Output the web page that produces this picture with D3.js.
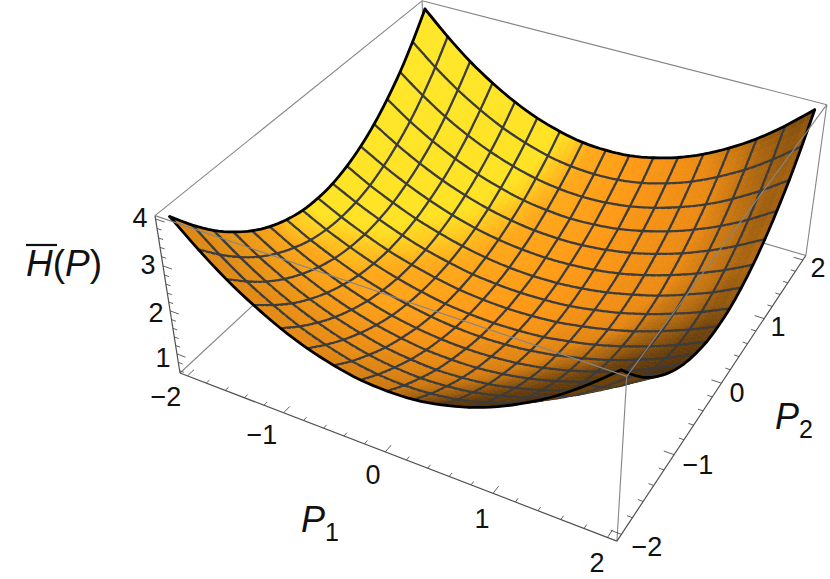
<!DOCTYPE html>
<html><head><meta charset="utf-8">
<script src="https://cdnjs.cloudflare.com/ajax/libs/d3/7.8.5/d3.min.js"></script>
<style>html,body{margin:0;background:#fff}svg{display:block}text{font-family:"Liberation Sans",Arial,sans-serif;fill:#111}</style>
</head><body><svg id="c" width="830" height="579"></svg>
<script>
// Mesh coordinates (P1 and P2 share them)
const meshP = [-2,-1.75,-1.5,-1.25,-1,-0.75,-0.5,-0.25,0,0.25,0.5,0.75,1,1.25,1.5,1.75,2];
// H(P) at the mesh crossings: rows run P2=-2..2, columns run P1=-2..2
const H = [
[4.00,3.49,3.04,2.67,2.36,2.12,1.95,1.84,1.81,1.84,1.95,2.12,2.36,2.67,3.04,3.49,4.00],
[3.49,3.03,2.63,2.30,2.02,1.81,1.65,1.56,1.53,1.56,1.65,1.81,2.02,2.30,2.63,3.03,3.49],
[3.04,2.63,2.27,1.97,1.73,1.54,1.40,1.32,1.29,1.32,1.40,1.54,1.73,1.97,2.27,2.63,3.04],
[2.67,2.29,1.97,1.70,1.48,1.31,1.18,1.11,1.08,1.11,1.18,1.31,1.48,1.70,1.97,2.29,2.67],
[2.36,2.02,1.73,1.48,1.28,1.12,1.01,0.94,0.92,0.94,1.01,1.12,1.28,1.48,1.73,2.02,2.36],
[2.12,1.81,1.54,1.31,1.12,0.97,0.87,0.81,0.79,0.81,0.87,0.97,1.12,1.31,1.54,1.81,2.12],
[1.95,1.65,1.40,1.18,1.01,0.87,0.77,0.71,0.69,0.71,0.77,0.87,1.01,1.18,1.40,1.65,1.95],
[1.84,1.56,1.32,1.11,0.94,0.81,0.71,0.66,0.64,0.66,0.71,0.81,0.94,1.11,1.32,1.56,1.84],
[1.81,1.53,1.29,1.08,0.92,0.79,0.69,0.64,0.62,0.64,0.69,0.79,0.92,1.08,1.29,1.53,1.81],
[1.84,1.56,1.32,1.11,0.94,0.81,0.71,0.66,0.64,0.66,0.71,0.81,0.94,1.11,1.32,1.56,1.84],
[1.95,1.65,1.40,1.18,1.01,0.87,0.77,0.71,0.69,0.71,0.77,0.87,1.01,1.18,1.40,1.65,1.95],
[2.12,1.81,1.54,1.31,1.12,0.97,0.87,0.81,0.79,0.81,0.87,0.97,1.12,1.31,1.54,1.81,2.12],
[2.36,2.02,1.73,1.48,1.28,1.12,1.01,0.94,0.92,0.94,1.01,1.12,1.28,1.48,1.73,2.02,2.36],
[2.67,2.29,1.97,1.70,1.48,1.31,1.18,1.11,1.08,1.11,1.18,1.31,1.48,1.70,1.97,2.29,2.67],
[3.04,2.63,2.27,1.97,1.73,1.54,1.40,1.32,1.29,1.32,1.40,1.54,1.73,1.97,2.27,2.63,3.04],
[3.49,3.03,2.63,2.30,2.02,1.81,1.65,1.56,1.53,1.56,1.65,1.81,2.02,2.30,2.63,3.03,3.49],
[4.00,3.49,3.04,2.67,2.36,2.12,1.95,1.84,1.81,1.84,1.95,2.12,2.36,2.67,3.04,3.49,4.00]];
const pTicks = [-2,-1,0,1,2];
const zTicks = [1,2,3,4];
const pDomain = [-2.08,2.08];
const zDomain = [0.545,4.07];

const svg = d3.select("#c");
const sx = d3.scaleLinear().domain(pDomain).range([0,1]);
const sz = d3.scaleLinear().domain(zDomain).range([0,1]);

// Perspective camera: origin corner plus the three vanishing points of the box
const O=[180,373], V1=[-3209,-931], V2=[1602,-948], V3=[505,2420];
const ka=-0.1142, kb=0.2102, kc=-0.0714;
const depth=(X,Y,Z)=>1+ka*X+kb*Y+kc*Z;
const proj=(X,Y,Z)=>{const w=depth(X,Y,Z);return [
 (O[0]+ka*X*V1[0]+kb*Y*V2[0]+kc*Z*V3[0])/w,
 (O[1]+ka*X*V1[1]+kb*Y*V2[1]+kc*Z*V3[1])/w];};
const line=d3.line();

// Axis directions in view space, for shading
const e1=[.868,-.293,.400], e2=[.496,.517,-.698], e3=[-.033,.787,.617];
const light=(()=>{const l=[.5,-.1,.86],m=Math.hypot(...l);return l.map(v=>v/m);})();
const ramp=d3.scaleLinear()
 .domain([-.3,.0,.2,.44,.62,.74,.95])
 .range(["#5a3409","#7a4a0e","#ea8a14","#ff9a17","#ffa81a","#ffe224","#ffe628"])
 .interpolate(d3.interpolateRgb).clamp(true);
const underside="#6e430c";
const shade=(l,nz)=>{const c=d3.rgb(ramp(l)),f=.78+.22*Math.min(1,Math.max(0,nz)/.55);
 return d3.rgb(c.r*f,c.g*f,c.b*f).formatHex();};

// Catmull-Rom refinement of the mesh for a smooth rendering
const N=meshP.length-1, sub=4, M=N*sub;
const cr=(a,b,c,d,t)=>.5*(2*b+(c-a)*t+(2*a-5*b+4*c-d)*t*t+(3*b-a-3*c+d)*t*t*t);
const ext=(r,c)=>{
 const cl=i=>Math.max(0,Math.min(N,i));
 const rr=cl(r),cc=cl(c);
 let v=H[rr][cc];
 if(r!==rr){v+=(H[rr][cc]-H[rr===0?1:N-1][cc]);}
 if(c!==cc){v+=(H[rr][cc]-H[rr][cc===0?1:N-1]);}
 return v;};
const zAt=(u,v)=>{
 const i=Math.min(N-1,Math.floor(u)),j=Math.min(N-1,Math.floor(v)),s=u-i,t=v-j,col=[];
 for(let r=-1;r<=2;r++)col.push(cr(ext(j+r,i-1),ext(j+r,i),ext(j+r,i+1),ext(j+r,i+2),s));
 return cr(col[0],col[1],col[2],col[3],t);};
const pOf=u=>-2+u*.25;
const V=[];
for(let j=0;j<=M;j++){const row=[];for(let i=0;i<=M;i++){
 const X=sx(pOf(i/sub)),Y=sx(pOf(j/sub)),Z=sz(zAt(i/sub,j/sub));
 row.push({X,Y,Z,w:depth(X,Y,Z),p:proj(X,Y,Z)});}V.push(row);}

const corner=(a,b,c)=>proj(a,b,c);
const seg=(a,b)=>line([a,b]);
const gBack=svg.append("g"), gSurf=svg.append("g"), gFront=svg.append("g");
const boxC="#858585", axisC="#505050";
[[[0,0,0],[0,1,0]],[[0,1,0],[1,1,0]],[[0,1,0],[0,1,1]],[[0,0,1],[0,1,1]],[[0,1,1],[1,1,1]],[[1,1,0],[1,1,1]]]
 .forEach(([a,b])=>gBack.append("path").attr("d",seg(corner(...a),corner(...b))).attr("stroke",boxC).attr("stroke-width",1.1).attr("fill","none"));

const items=[];
for(let j=0;j<M;j++)for(let i=0;i<M;i++){
 const a=V[j][i],b=V[j][i+1],c=V[j+1][i+1],d=V[j+1][i];
 const area=d3.polygonArea([a.p,b.p,c.p,d.p]);
 const du=[(b.X-a.X+c.X-d.X)/2,0,(b.Z-a.Z+c.Z-d.Z)/2*.4];
 const dv=[0,(d.Y-a.Y+c.Y-b.Y)/2,(d.Z-a.Z+c.Z-b.Z)/2*.4];
 const n=[du[1]*dv[2]-du[2]*dv[1],du[2]*dv[0]-du[0]*dv[2],du[0]*dv[1]-du[1]*dv[0]];
 const m=Math.hypot(...n);
 const nv=[0,1,2].map(k=>(n[0]*e1[k]+n[1]*e2[k]+n[2]*e3[k])/m);
 const l=nv[0]*light[0]+nv[1]*light[1]+nv[2]*light[2];
 const front=area>0;
 items.push({w:(a.w+b.w+c.w+d.w)/4,d:line([a.p,b.p,c.p,d.p])+"Z",fill:front?shade(l,nv[2]):underside,q:true});
}
const qW=(j,i)=>(j<0||i<0||j>=M||i>=M)?Infinity:(V[j][i].w+V[j][i+1].w+V[j+1][i+1].w+V[j+1][i].w)/4;
for(let k=sub;k<M;k+=sub)for(let t=0;t<M;t++){
 items.push({w:Math.min(qW(t,k-1),qW(t,k))-1e-5,d:line([V[t][k].p,V[t+1][k].p])});
 items.push({w:Math.min(qW(k-1,t),qW(k,t))-1e-5,d:line([V[k][t].p,V[k][t+1].p])});
}
items.sort((a,b)=>b.w-a.w);
gSurf.selectAll("path").data(items).join("path").attr("d",d=>d.d)
 .attr("fill",d=>d.q?d.fill:"none")
 .attr("stroke",d=>d.q?d.fill:"#3c3c3c")
 .attr("stroke-width",d=>d.q?.7:2.3)
 .attr("stroke-linecap","round");
const rng=d3.range(M+1);
[rng.map(t=>V[0][t].p),rng.map(t=>V[M][t].p),rng.map(t=>V[t][0].p),rng.map(t=>V[t][M].p)]
 .forEach(pts=>gSurf.append("path").attr("d",line(pts)).attr("fill","none").attr("stroke","#000").attr("stroke-width",2.8).attr("stroke-linecap","round"));

[[[0,0,1],[1,0,1]],[[1,0,1],[1,1,1]],[[1,0,0],[1,0,1]]]
 .forEach(([a,b])=>gFront.append("path").attr("d",seg(corner(...a),corner(...b))).attr("stroke",boxC).attr("stroke-width",1.1).attr("fill","none"));
[[[0,0,0],[1,0,0]],[[1,0,0],[1,1,0]],[[0,0,0],[0,0,1]]]
 .forEach(([a,b])=>gFront.append("path").attr("d",seg(corner(...a),corner(...b))).attr("stroke",axisC).attr("stroke-width",1.2).attr("fill","none"));
const tickPath=(a,b)=>gFront.append("path").attr("d",seg(a,b)).attr("stroke",axisC).attr("stroke-width",.9).attr("fill","none");
const minorP=d3.range(21).map(i=>-2+i*.2), minorZ=d3.range(18).map(i=>.6+i*.2);
minorP.forEach((p,i)=>{const major=i%5===0,L=major?.022:.011,t=sx(p);
 tickPath(proj(t,0,0),proj(t,L,0));
 tickPath(proj(1,t,0),proj(1-L,t,0));});
minorZ.forEach(z=>{const major=Math.abs(z-Math.round(z))<1e-6,L=major?.022:.011,t=sz(z);
 tickPath(proj(0,0,t),proj(L,0,t));});

const label=(x,y,s,size=27)=>svg.append("text").attr("x",x).attr("y",y).attr("text-anchor","middle").attr("dominant-baseline","central").attr("font-size",size).text(s);
const fmt=v=>v<0?"\u2212"+(-v):""+v;
const p1Pos=[[166,397],[262,435],[373,475],[482,519],[597,563]];
const p2Pos=[[647,547],[698,465],[737,393],[778,327],[818,268]];
const zPos=[[163,358],[156,313],[148,265],[140,218]];
pTicks.forEach((v,i)=>{label(...p1Pos[i],fmt(v));label(...p2Pos[i],fmt(v));});
zTicks.forEach((v,i)=>label(...zPos[i],fmt(v)));
const sub_=(x,y,s)=>{const t=svg.append("text").attr("x",x).attr("y",y).attr("font-size",36);
 t.append("tspan").attr("font-style","italic").text("P");
 t.append("tspan").attr("font-size",25).attr("dy",9).text(s);};
sub_(301,532,"1");
sub_(775,429,"2");
const h=svg.append("text").attr("x",26).attr("y",276).attr("font-size",37);
h.append("tspan").attr("font-style","italic").text("H");
h.append("tspan").text("(");
h.append("tspan").attr("font-style","italic").text("P");
h.append("tspan").text(")");
svg.append("line").attr("x1",26).attr("x2",57).attr("y1",245).attr("y2",245).attr("stroke","#111").attr("stroke-width",2.2);
</script></body></html>
